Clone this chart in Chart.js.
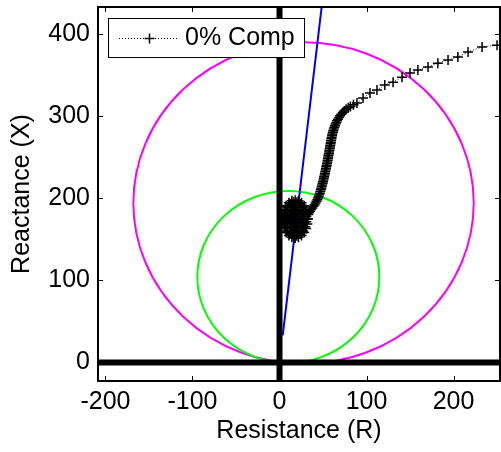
<!DOCTYPE html>
<html>
<head>
<meta charset="utf-8">
<style>
  html, body { margin: 0; padding: 0; background: #fff; }
  canvas { display: block; }
</style>
<script src="https://cdn.jsdelivr.net/npm/chart.js@4/dist/chart.umd.min.js"></script>
</head>
<body>
<canvas id="chart" width="501" height="452"></canvas>
<script>
// tick labels
const xTicks = [-200, -100, 0, 100, 200];
const yTicks = [0, 100, 200, 300, 400];

// impedance trajectory (R, X)
const compLabel = "0% Comp";
const compR = [
  18, 20, 18, 16, 18,
  22.5, 21.2, 18, 14.8, 13.5, 14.8, 18, 21.2,
  23.5, 20.3, 15.7, 12.5, 12.5, 15.7, 20.3, 23.5,
  25.5, 24.5, 21.8, 18, 14.3, 11.5, 10.5, 11.5, 14.3, 18, 21.8, 24.5,
  27, 24.6, 20.4, 15.6, 11.4, 9, 9, 11.4, 15.6, 20.4, 24.6, 27,
  29, 28.5, 26.9, 24.5, 21.4, 18, 14.6, 11.5, 9.1, 7.5, 7, 7.5, 9.1, 11.5, 14.6, 18, 21.4, 24.5, 26.9, 28.5,
  30.8, 29.6, 27.2, 23.9, 20, 16, 12.1, 8.8, 6.4, 5.2, 5.2, 6.4, 8.8, 12.1, 16, 20, 23.9, 27.2, 29.6, 30.8,
  32.5, 32, 30.6, 28.3, 25.3, 21.8, 18, 14.2, 10.8, 7.7, 5.4, 4, 3.5, 4, 5.4, 7.7, 10.8, 14.2, 18, 21.8, 25.3, 28.3, 30.6, 32, 32.5,
  33, 34, 35, 36.3, 37.7, 39, 40.3, 41.5, 42.5, 43.5, 44.3, 45, 45.7, 46.3, 47, 47.5, 48, 48.5, 49, 49.5,
  50, 50.5, 50.9, 51.3, 51.8, 52.2, 52.6, 53, 53.4, 53.8, 54.2, 54.6, 55, 55.3, 55.7, 56, 56.3, 56.7, 57, 57.3,
  57.7, 58, 58.3, 58.7, 59, 59.3, 59.7, 60, 60.4, 60.8, 61.3, 61.8, 62.4, 63, 63.7, 64.5, 65.3, 66.2, 67.2, 68.3,
  69.5, 71, 72.7, 74.5, 76.5, 79, 81.5, 85, 89, 96, 104, 112, 121, 130.5, 140.8, 150, 159, 170.7, 182, 193.7,
  205, 216.7, 232.8, 250, 268
];
const compX = [
  174.5, 174.5, 177.5, 174.5, 171.5,
  174.5, 179.4, 181.5, 179.4, 174.5, 169.6, 167.5, 169.6,
  178.1, 183.3, 183.3, 178.1, 170.9, 165.7, 165.7, 170.9,
  174.5, 180.5, 184.9, 186.5, 184.9, 180.5, 174.5, 168.5, 164.1, 162.5, 164.1, 168.5,
  178.3, 184.9, 188.7, 188.7, 184.9, 178.3, 170.7, 164.1, 160.3, 160.3, 164.1, 170.7,
  174.5, 179.9, 184.8, 188.7, 191.1, 192, 191.1, 188.7, 184.8, 179.9, 174.5, 169.1, 164.2, 160.3, 157.9, 157, 157.9, 160.3, 164.2, 169.1,
  177.7, 183.8, 189, 192.8, 194.8, 194.8, 192.8, 189, 183.8, 177.7, 171.3, 165.2, 160, 156.2, 154.2, 154.2, 156.2, 160, 165.2, 171.3,
  174.5, 180.5, 186, 190.8, 194.4, 196.7, 197.5, 196.7, 194.4, 190.8, 186, 180.5, 174.5, 168.5, 163, 158.2, 154.6, 152.3, 151.5, 152.3, 154.6, 158.2, 163, 168.5, 174.5,
  180, 182, 184, 186, 188, 190, 192, 194, 196, 198, 200, 202, 204, 206, 208, 210, 212, 214, 216, 218,
  220, 222, 224, 226, 228, 230, 232, 234, 236, 238, 240, 242, 244, 246, 248, 250, 252, 254, 256, 258,
  260, 262, 264, 266, 268, 270, 272, 274, 276, 278, 280, 282, 284, 286, 288, 290, 292, 294, 296, 298,
  300, 302, 304, 306, 308, 310, 311.5, 313.5, 315.6, 321.7, 327.8, 331.5, 337.6, 341, 347, 352, 355.7, 359.5, 364, 368,
  371.6, 377.7, 383.8, 386, 390
];

// characteristic line (R, X)
const lineR = [3.7, 56];
const lineX = [33, 500];

// mho circles: centre R, centre X, radius, colour
const circleR = [27.6, 10.1];
const circleX = [194, 104.1];
const circleRadius = [195.6, 104.6];
const circleColors = ["#ff00ff", "#00ff00"];

const FONT = { family: "'Liberation Sans', Arial, sans-serif", size: 25, lineHeight: 1.2 };

const pts = (xs, ys) => xs.map((x, i) => ({ x, y: ys[i] }));

const circlesPlugin = {
  id: "circles",
  beforeDatasetsDraw(chart) {
    const { ctx, chartArea: a, scales: { x, y } } = chart;
    ctx.save();
    ctx.beginPath();
    ctx.rect(a.left, a.top, a.right - a.left, a.bottom - a.top);
    ctx.clip();
    ctx.lineWidth = 2;
    circleR.forEach((cr, i) => {
      const cx = x.getPixelForValue(cr);
      const cy = y.getPixelForValue(circleX[i]);
      const rx = Math.abs(x.getPixelForValue(cr + circleRadius[i]) - cx);
      const ry = Math.abs(y.getPixelForValue(circleX[i] + circleRadius[i]) - cy);
      ctx.strokeStyle = circleColors[i];
      ctx.beginPath();
      ctx.ellipse(cx, cy, rx, ry, 0, 0, Math.PI * 2);
      ctx.stroke();
    });
    ctx.restore();
  },
};

const framePlugin = {
  id: "frame",
  afterDraw(chart) {
    const { ctx, chartArea: a, scales: { x, y } } = chart;
    ctx.save();
    ctx.strokeStyle = "#000";
    ctx.lineWidth = 1;
    ctx.beginPath();
    xTicks.forEach((v) => {
      const px = Math.round(x.getPixelForValue(v)) + 0.5;
      ctx.moveTo(px, a.bottom); ctx.lineTo(px, a.bottom - 5);
      ctx.moveTo(px, a.top); ctx.lineTo(px, a.top + 5);
    });
    yTicks.forEach((v) => {
      const py = Math.round(y.getPixelForValue(v)) + 0.5;
      ctx.moveTo(a.left, py); ctx.lineTo(a.left + 5, py);
      ctx.moveTo(a.right, py); ctx.lineTo(a.right - 5, py);
    });
    ctx.stroke();
    ctx.lineWidth = 2;
    ctx.strokeRect(a.left, a.top, a.right - a.left, a.bottom - a.top);

    // legend box
    const lx = 108, ly = 18, lw = 196, lh = 39;
    ctx.fillStyle = "#fff";
    ctx.fillRect(lx, ly, lw, lh);
    ctx.lineWidth = 1;
    ctx.strokeRect(lx + 0.5, ly + 0.5, lw, lh);
    const my = ly + 20.5;
    ctx.setLineDash([1, 2]);
    ctx.beginPath();
    ctx.moveTo(119, my); ctx.lineTo(178, my);
    ctx.stroke();
    ctx.setLineDash([]);
    ctx.lineWidth = 1.5;
    ctx.beginPath();
    ctx.moveTo(149.5 - 5, my); ctx.lineTo(149.5 + 5, my);
    ctx.moveTo(149.5, my - 5); ctx.lineTo(149.5, my + 5);
    ctx.stroke();
    ctx.fillStyle = "#000";
    ctx.font = `${FONT.size}px ${FONT.family}`;
    ctx.textBaseline = "middle";
    ctx.textAlign = "left";
    ctx.fillText(chart.data.datasets[0].label, 185, my);
    ctx.restore();
  },
};

new Chart("chart", {
  type: "line",
  data: {
    datasets: [
      {
        label: compLabel,
        data: pts(compR, compX),
        borderColor: "#000",
        borderWidth: 1,
        borderDash: [1, 2],
        pointStyle: "cross",
        pointRadius: 5,
        pointBorderWidth: 1.5,
        pointBorderColor: "#000",
        clip: 0,
      },
      {
        label: "line",
        data: pts(lineR, lineX),
        borderColor: "#0000ff",
        borderWidth: 2,
        pointRadius: 0,
        clip: 0,
      },
      {
        label: "R axis",
        data: [{ x: -260, y: 0 }, { x: 300, y: 0 }],
        borderColor: "#000",
        borderWidth: 6,
        pointRadius: 0,
        clip: 0,
      },
      {
        label: "X axis",
        data: [{ x: 0, y: -60 }, { x: 0, y: 500 }],
        borderColor: "#000",
        borderWidth: 6,
        pointRadius: 0,
        clip: 0,
      },
    ],
  },
  options: {
    responsive: false,
    animation: false,
    devicePixelRatio: 1,
    layout: { autoPadding: false, padding: { top: 7, right: 1, left: 0, bottom: 0 } },
    plugins: { legend: { display: false }, tooltip: { enabled: false } },
    scales: {
      x: {
        type: "linear",
        min: -208.6,
        max: 253.4,
        afterBuildTicks: (s) => { s.ticks = xTicks.map((value) => ({ value })); },
        afterFit: (s) => { s.height = 71; s.paddingLeft = 0; s.paddingRight = 0; },
        grid: { display: false, drawTicks: false },
        border: { display: false },
        ticks: { color: "#000", font: FONT, padding: 6, maxRotation: 0 },
        title: {
          display: true,
          text: "Resistance (R)",
          color: "#000",
          font: FONT,
          padding: { top: 0, bottom: 6 },
        },
      },
      y: {
        type: "linear",
        min: -22.5,
        max: 432.4,
        afterBuildTicks: (s) => { s.ticks = yTicks.map((value) => ({ value })); },
        afterFit: (s) => { s.width = 98; s.paddingTop = 0; s.paddingBottom = 0; },
        grid: { display: false, drawTicks: false },
        border: { display: false },
        ticks: { color: "#000", font: FONT, padding: 8 },
        title: {
          display: true,
          text: "Reactance (X)",
          color: "#000",
          font: FONT,
          padding: { top: 7, bottom: 0 },
        },
      },
    },
  },
  plugins: [circlesPlugin, framePlugin],
});
</script>
</body>
</html>
